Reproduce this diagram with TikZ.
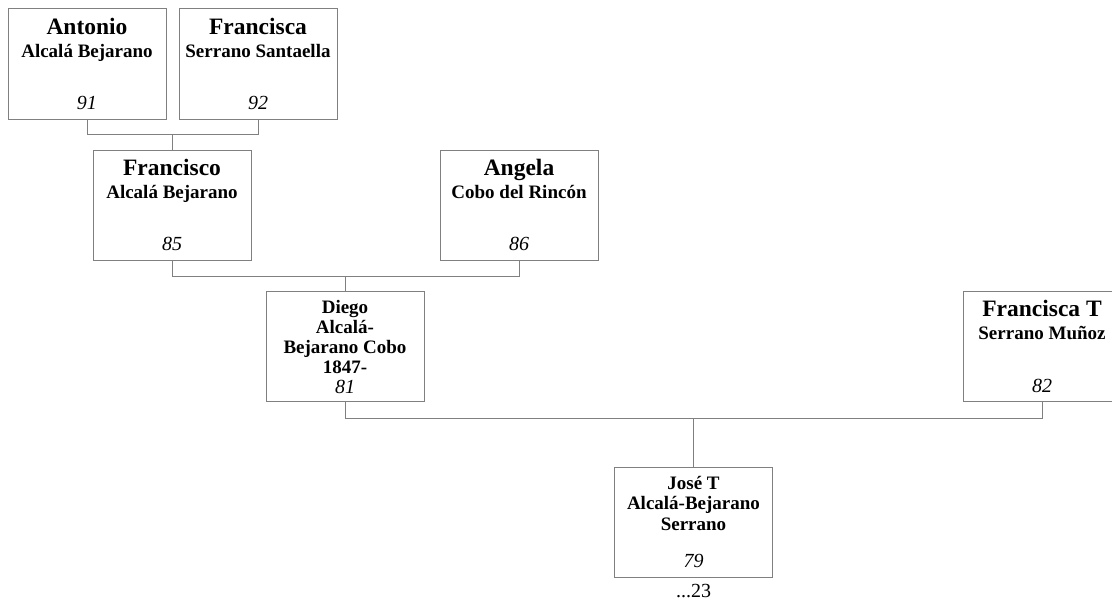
\documentclass[tikz,border=0pt]{standalone}
\usepackage{fontspec}
\setmainfont{Liberation Serif}
\usepackage{xcolor}
\usepackage{tikz}
\usetikzlibrary{positioning}
\definecolor{linegray}{RGB}{128, 128, 128}

\newcommand{\givenname}[1]{{\fontsize{23.5}{26}\selectfont\bfseries #1\par}}
\newcommand{\familyname}[1]{{\fontsize{19}{23}\selectfont\bfseries #1\par}}
\newcommand{\refno}[1]{{\fontsize{20}{20}\selectfont\mdseries\itshape #1\par}}
\newcommand{\card}[2]{\parbox[c][92pt][t]{150pt}{\centering {#1}\vfill #2}}

\begin{document}
\begin{tikzpicture}[x=1pt, y=-1pt,
                person/.style={draw=linegray, line width=1pt, inner sep=0pt,
                               minimum width=158pt, minimum height=110pt},
                link/.style={draw=linegray, line width=1pt}]
                \useasboundingbox (0,0) rectangle (1112,602);

                \node[person] (ant) at (87,64)
                      {\card{\givenname{Antonio}\familyname{Alcalá Bejarano}}{\refno{91}}};
                \node[person, right=12pt of ant] (fra)
                      {\card{\givenname{Francisca}\familyname{Serrano Santaella}}{\refno{92}}};
                \node[person] (fco) at (172,205)
                      {\card{\givenname{Francisco}\familyname{Alcalá Bejarano}}{\refno{85}}};
                \node[person] (ang) at (519,205)
                      {\card{\givenname{Angela}\familyname{Cobo del Rincón}}{\refno{86}}};
                \node[person] (die) at (345,346.5)
                      {\card{\fontsize{19}{20}\selectfont\bfseries
                      Diego\\ Alcalá-\\ Bejarano Cobo\\ 1847-\par}{\refno{81}}};
                \node[person] (frt) at (1042,346.5)
                      {\card{\givenname{Francisca T}\familyname{Serrano Muñoz}}{\refno{82}}};
                \node[person] (jos) at (693.5,522)
                      {\card{\fontsize{19}{20.5}\selectfont\bfseries
                      José T\\ Alcalá-Bejarano\\ Serrano\par}{\refno{79}}};
                \node[below=6pt of jos, inner sep=1pt, font=\fontsize{20}{24}\selectfont]
                      (more) {...23};

                \draw[link] (ant.south) -- ++(0,15) coordinate (j1) -| (fra.south);
                \draw[link] (fco.north) -- (fco.north |- j1);
                \draw[link] (fco.south) -- ++(0,16) coordinate (j2) -| (ang.south);
                \draw[link] (die.north) -- (die.north |- j2);
                \draw[link] (die.south) -- ++(0,16) coordinate (j3) -| (frt.south);
                \draw[link] (jos.north) -- (jos.north |- j3);
            \end{tikzpicture}
\end{document}
